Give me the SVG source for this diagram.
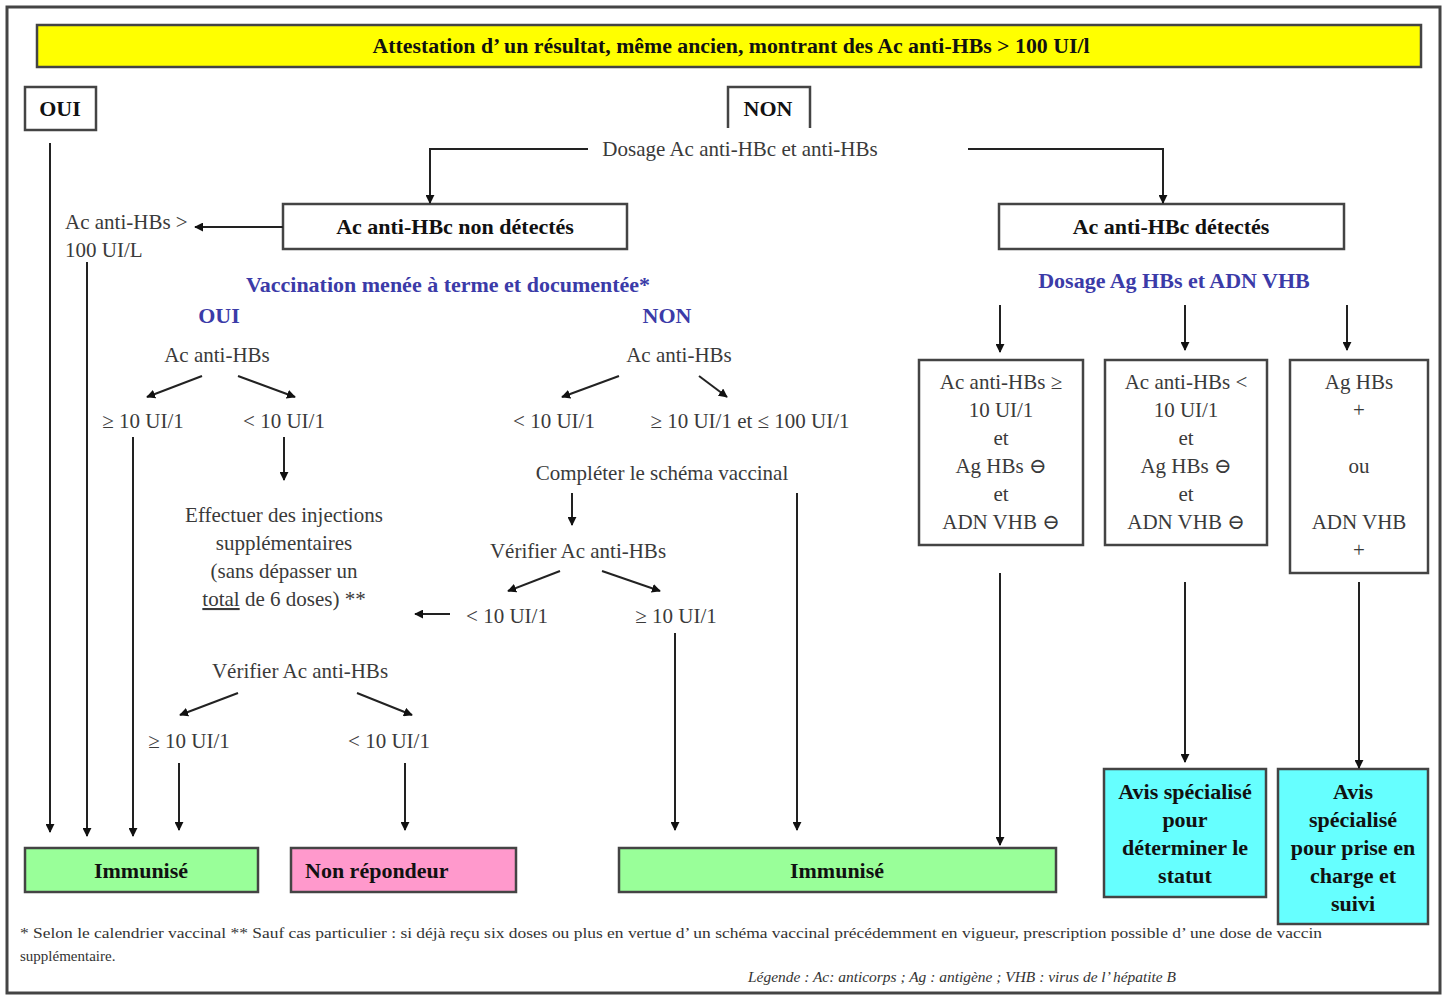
<svg xmlns="http://www.w3.org/2000/svg" width="1448" height="996" viewBox="0 0 1448 996">
<defs>
<marker id="ah" viewBox="0 0 10 10" refX="9" refY="5" markerWidth="9" markerHeight="9" markerUnits="userSpaceOnUse" orient="auto">
<path d="M0,0 L10,5 L0,10 z" fill="#111"/>
</marker>
<style>
.t{font-family:"Liberation Serif","DejaVu Serif",serif;font-size:21px;fill:#3a3a3a;text-anchor:middle}
.b{font-family:"Liberation Serif","DejaVu Serif",serif;font-size:22px;font-weight:bold;fill:#111;text-anchor:middle}
.blue{font-family:"Liberation Serif","DejaVu Serif",serif;font-size:22px;font-weight:bold;fill:#3b3ba8;text-anchor:middle}
.box{fill:#fff;stroke:#444;stroke-width:2.5}
.c{stroke:#222;stroke-width:2;fill:none}
.a{stroke:#222;stroke-width:2;fill:none;marker-end:url(#ah)}
.foot{font-family:"Liberation Serif","DejaVu Serif",serif;font-size:15px;fill:#333}
</style>
</defs>
<rect x="0" y="0" width="1448" height="996" fill="#fff"/>
<rect x="7" y="7" width="1433" height="986" fill="#fff" stroke="#444" stroke-width="3"/>

<g id="title">
<rect x="37" y="25" width="1384" height="42" fill="#ffff00" stroke="#444" stroke-width="2.5"/>
<text class="b" x="731" y="53" style="font-size:20px" textLength="717" lengthAdjust="spacingAndGlyphs">Attestation d’ un résultat, même ancien, montrant des Ac anti-HBs &gt; 100 UI/l</text>
</g>
<g id="oui-top"><rect class="box" x="25" y="87" width="71" height="43"/><text class="b" x="60" y="116">OUI</text></g>
<g id="non-top"><path d="M728,128 V87 H810 V128" class="box"/><text class="b" x="768" y="116">NON</text></g>
<g id="dosage1"><text class="t" x="740" y="156">Dosage Ac anti-HBc et anti-HBs</text></g>
<g id="hbc-neg"><rect class="box" x="283" y="204" width="344" height="45"/><text class="b" x="455" y="234">Ac anti-HBc non détectés</text></g>
<g id="hbc-pos"><rect class="box" x="999" y="204" width="345" height="45"/><text class="b" x="1171" y="234">Ac anti-HBc détectés</text></g>
<g id="hbs100"><text class="t" x="65" y="229" style="text-anchor:start">Ac anti-HBs &gt;</text><text class="t" x="65" y="257" style="text-anchor:start">100 UI/L</text></g>
<g id="vacc"><text class="blue" x="448" y="292">Vaccination menée à terme et documentée*</text><text class="blue" x="219" y="323">OUI</text><text class="blue" x="667" y="323">NON</text></g>
<g id="dosage2"><text class="blue" x="1174" y="288">Dosage Ag HBs et ADN VHB</text></g>

<g id="oui-branch">
<text class="t" x="217" y="362">Ac anti-HBs</text>
<text class="t" x="143" y="428">≥ 10 UI/1</text>
<text class="t" x="284" y="428">&lt; 10 UI/1</text>
<text class="t" x="284" y="522">Effectuer des injections</text>
<text class="t" x="284" y="550">supplémentaires</text>
<text class="t" x="284" y="578">(sans dépasser un</text>
<text class="t" x="284" y="606"><tspan text-decoration="underline">total</tspan> de 6 doses) **</text>
<text class="t" x="300" y="678">Vérifier Ac anti-HBs</text>
<text class="t" x="189" y="748">≥ 10 UI/1</text>
<text class="t" x="389" y="748">&lt; 10 UI/1</text>
</g>
<g id="non-branch">
<text class="t" x="679" y="362">Ac anti-HBs</text>
<text class="t" x="554" y="428">&lt; 10 UI/1</text>
<text class="t" x="750" y="428">≥ 10 UI/1 et ≤ 100 UI/1</text>
<text class="t" x="662" y="480">Compléter le schéma vaccinal</text>
<text class="t" x="578" y="558">Vérifier Ac anti-HBs</text>
<text class="t" x="507" y="623">&lt; 10 UI/1</text>
<text class="t" x="676" y="623">≥ 10 UI/1</text>
</g>

<g id="r1"><rect class="box" x="919" y="360" width="164" height="185"/>
<text class="t" x="1001" y="389">Ac anti-HBs ≥</text><text class="t" x="1001" y="417">10 UI/1</text><text class="t" x="1001" y="445">et</text><text class="t" x="1001" y="473">Ag HBs ⊖</text><text class="t" x="1001" y="501">et</text><text class="t" x="1001" y="529">ADN VHB ⊖</text></g>
<g id="r2"><rect class="box" x="1105" y="360" width="162" height="185"/>
<text class="t" x="1186" y="389">Ac anti-HBs &lt;</text><text class="t" x="1186" y="417">10 UI/1</text><text class="t" x="1186" y="445">et</text><text class="t" x="1186" y="473">Ag HBs ⊖</text><text class="t" x="1186" y="501">et</text><text class="t" x="1186" y="529">ADN VHB ⊖</text></g>
<g id="r3"><rect class="box" x="1290" y="360" width="138" height="213"/>
<text class="t" x="1359" y="389">Ag HBs</text><text class="t" x="1359" y="417">+</text><text class="t" x="1359" y="473">ou</text><text class="t" x="1359" y="529">ADN VHB</text><text class="t" x="1359" y="557">+</text></g>

<g id="imm-left"><rect x="25" y="848" width="233" height="44" fill="#99ff99" stroke="#444" stroke-width="2.5"/><text class="b" x="141" y="878">Immunisé</text></g>
<g id="non-rep"><rect x="291" y="848" width="225" height="44" fill="#ff99cc" stroke="#444" stroke-width="2.5"/><text class="b" x="305" y="878" style="text-anchor:start">Non répondeur</text></g>
<g id="imm-right"><rect x="619" y="848" width="437" height="44" fill="#99ff99" stroke="#444" stroke-width="2.5"/><text class="b" x="837" y="878">Immunisé</text></g>
<g id="avis1"><rect x="1104" y="769" width="162" height="128" fill="#66ffff" stroke="#444" stroke-width="2.5"/>
<text class="b" x="1185" y="799">Avis spécialisé</text><text class="b" x="1185" y="827">pour</text><text class="b" x="1185" y="855">déterminer le</text><text class="b" x="1185" y="883">statut</text></g>
<g id="avis2"><rect x="1278" y="769" width="150" height="155" fill="#66ffff" stroke="#444" stroke-width="2.5"/>
<text class="b" x="1353" y="799">Avis</text><text class="b" x="1353" y="827">spécialisé</text><text class="b" x="1353" y="855">pour prise en</text><text class="b" x="1353" y="883">charge  et</text><text class="b" x="1353" y="911">suivi</text></g>

<g id="connectors">
<path class="a" d="M588,149 H430 V203"/>
<path class="a" d="M968,149 H1163 V203"/>
<path class="a" d="M283,227 H195"/>
<path class="a" d="M50,143 V832"/>
<path class="a" d="M87,262 V836"/>
<path class="a" d="M133,437 V836"/>
<path class="a" d="M202,376 L147,397"/>
<path class="a" d="M238,376 L295,397"/>
<path class="a" d="M284,437 V480"/>
<path class="a" d="M238,693 L180,715"/>
<path class="a" d="M357,693 L412,715"/>
<path class="a" d="M179,763 V830"/>
<path class="a" d="M405,763 V830"/>
<path class="a" d="M619,376 L562,397"/>
<path class="a" d="M699,376 L727,397"/>
<path class="a" d="M572,493 V525"/>
<path class="a" d="M797,493 V830"/>
<path class="a" d="M560,571 L508,591"/>
<path class="a" d="M602,571 L660,591"/>
<path class="a" d="M450,614 H415"/>
<path class="a" d="M675,633 V830"/>
<path class="a" d="M1000,305 V352"/>
<path class="a" d="M1185,305 V350"/>
<path class="a" d="M1347,305 V350"/>
<path class="a" d="M1000,573 V845"/>
<path class="a" d="M1185,582 V762"/>
<path class="a" d="M1359,582 V768"/>
</g>

<g id="footer">
<text class="foot" x="20" y="938" textLength="1302" lengthAdjust="spacingAndGlyphs">* Selon le calendrier vaccinal  ** Sauf cas particulier : si déjà reçu six doses ou plus en vertue d’ un schéma vaccinal précédemment en vigueur, prescription possible d’ une dose de vaccin</text>
<text class="foot" x="20" y="961">supplémentaire.</text>
<text class="foot" x="962" y="982" style="text-anchor:middle;font-style:italic;font-size:14px" textLength="428" lengthAdjust="spacingAndGlyphs">Légende : Ac: anticorps ; Ag : antigène ; VHB : virus de l’ hépatite B</text>
</g>
</svg>
